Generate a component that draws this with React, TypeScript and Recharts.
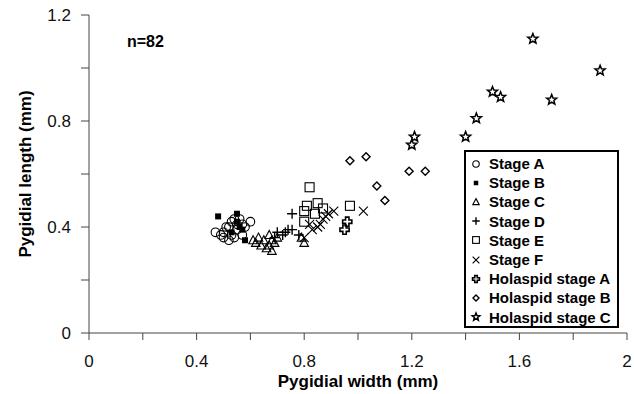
import React from "react";
import {
  ScatterChart,
  Scatter,
  XAxis,
  YAxis,
  Legend,
} from "recharts";

const FONT = '"Liberation Sans", Arial, sans-serif';

// [width, length] in mm
const stageA = [
  [0.47, 0.38], [0.49, 0.37], [0.5, 0.38], [0.51, 0.4], [0.52, 0.4],
  [0.53, 0.37], [0.53, 0.42], [0.54, 0.36], [0.55, 0.41], [0.55, 0.39],
  [0.56, 0.43], [0.57, 0.37], [0.58, 0.4], [0.6, 0.42], [0.52, 0.35],
  [0.54, 0.43], [0.57, 0.41], [0.5, 0.36],
];
const stageB = [
  [0.48, 0.44], [0.55, 0.45], [0.53, 0.38], [0.56, 0.4], [0.57, 0.39],
  [0.58, 0.35], [0.55, 0.42],
];
const stageC = [
  [0.61, 0.35], [0.62, 0.34], [0.63, 0.36], [0.64, 0.33], [0.65, 0.35],
  [0.67, 0.37], [0.67, 0.33], [0.68, 0.31], [0.68, 0.35], [0.69, 0.34],
  [0.66, 0.32], [0.7, 0.36], [0.79, 0.36], [0.8, 0.34],
];
const stageD = [
  [0.755, 0.45], [0.755, 0.39], [0.72, 0.37], [0.7, 0.38], [0.69, 0.36],
  [0.73, 0.38], [0.78, 0.37], [0.74, 0.39],
];
const stageE = [
  [0.82, 0.55], [0.8, 0.46], [0.81, 0.48], [0.85, 0.49], [0.87, 0.47],
  [0.84, 0.45], [0.8, 0.42], [0.97, 0.48],
];
const stageF = [
  [0.91, 0.46], [1.02, 0.46], [0.87, 0.43], [0.88, 0.44], [0.82, 0.41],
  [0.8, 0.36], [0.86, 0.41], [0.89, 0.45], [0.85, 0.4], [0.83, 0.39],
];
const holaspidA = [
  [0.96, 0.42], [0.95, 0.39],
];
const holaspidB = [
  [0.97, 0.65], [1.03, 0.665], [1.07, 0.555], [1.1, 0.5], [1.19, 0.61],
  [1.25, 0.61],
];
const holaspidC = [
  [1.21, 0.74], [1.2, 0.71], [1.4, 0.74], [1.44, 0.81], [1.5, 0.91],
  [1.53, 0.89], [1.72, 0.88], [1.65, 1.11], [1.9, 0.99],
];

const xTicks = [0, 0.2, 0.4, 0.6, 0.8, 1, 1.2, 1.4, 1.6, 1.8, 2];
const xLabelled = [0, 0.4, 0.8, 1.2, 1.6, 2];
const yTicks = [0, 0.2, 0.4, 0.6, 0.8, 1, 1.2];
const yLabelled = [0, 0.4, 0.8, 1.2];

const series = [
  { name: "Stage A", kind: "circle", points: stageA },
  { name: "Stage B", kind: "filledSquare", points: stageB },
  { name: "Stage C", kind: "triangle", points: stageC },
  { name: "Stage D", kind: "plus", points: stageD },
  { name: "Stage E", kind: "square", points: stageE },
  { name: "Stage F", kind: "cross", points: stageF },
  { name: "Holaspid stage A", kind: "holaA", points: holaspidA },
  { name: "Holaspid stage B", kind: "diamond", points: holaspidB },
  { name: "Holaspid stage C", kind: "star", points: holaspidC },
];

const toRows = (pts: number[][]) => pts.map(([x, y]) => ({ x, y }));

function starPath(cx: number, cy: number, ro: number, ri: number) {
  let d = "";
  for (let i = 0; i < 10; i++) {
    const a = ((-90 + i * 36) * Math.PI) / 180;
    const r = i % 2 === 0 ? ro : ri;
    d += (i === 0 ? "M" : "L") + (cx + r * Math.cos(a)).toFixed(2) + "," + (cy + r * Math.sin(a)).toFixed(2);
  }
  return d + "Z";
}

function Marker({ kind, cx, cy, s = 1 }: { kind: string; cx: number; cy: number; s?: number }) {
  const st = { fill: "none", stroke: "#000", strokeWidth: 1.1 };
  switch (kind) {
    case "circle":
      return <circle cx={cx} cy={cy} r={4.3 * s} {...st} />;
    case "filledSquare":
      return <rect x={cx - 3 * s} y={cy - 3 * s} width={6 * s} height={6 * s} fill="#000" />;
    case "triangle":
      return (
        <path
          d={`M${cx},${cy - 4.5 * s}L${cx + 4.3 * s},${cy + 3.5 * s}L${cx - 4.3 * s},${cy + 3.5 * s}Z`}
          {...st}
        />
      );
    case "plus":
      return (
        <path d={`M${cx - 5 * s},${cy}H${cx + 5 * s}M${cx},${cy - 5 * s}V${cy + 5 * s}`} {...st} strokeWidth={1.4} />
      );
    case "square":
      return <rect x={cx - 4.5 * s} y={cy - 4.5 * s} width={9 * s} height={9 * s} {...st} />;
    case "cross":
      return (
        <path
          d={`M${cx - 4.5 * s},${cy - 4.5 * s}L${cx + 4.5 * s},${cy + 4.5 * s}M${cx - 4.5 * s},${cy + 4.5 * s}L${cx + 4.5 * s},${cy - 4.5 * s}`}
          {...st}
        />
      );
    case "holaA": {
      const a = 1.7 * s;
      const b = 4.6 * s;
      const d = `M${cx - a},${cy - b}H${cx + a}V${cy - a}H${cx + b}V${cy + a}H${cx + a}V${cy + b}H${cx - a}V${cy + a}H${cx - b}V${cy - a}H${cx - a}Z`;
      return <path d={d} {...st} strokeWidth={1.6} />;
    }
    case "diamond":
      return (
        <path
          d={`M${cx},${cy - 4 * s}L${cx + 4 * s},${cy}L${cx},${cy + 4 * s}L${cx - 4 * s},${cy}Z`}
          {...st}
          strokeWidth={1.4}
        />
      );
    case "star":
      return <path d={starPath(cx, cy, 5.3 * s, 2.3 * s)} {...st} strokeWidth={1.5} />;
    default:
      return null;
  }
}

const LegendBox = () => (
  <div
    style={{
      boxSizing: "border-box",
      width: 155,
      height: 178,
      border: "2px solid #000",
      background: "#fff",
      padding: "2px 4px 0 2px",
      fontFamily: FONT,
      fontWeight: "bold",
      fontSize: 15,
      color: "#000",
    }}
  >
    {series.map((s) => (
      <div key={s.name} style={{ display: "flex", alignItems: "center", height: 19.2, whiteSpace: "nowrap" }}>
        <svg width={16} height={14} style={{ flex: "none" }}>
          <Marker kind={s.kind} cx={8} cy={7} s={0.75} />
        </svg>
        <span style={{ marginLeft: 5 }}>{s.name}</span>
      </div>
    ))}
  </div>
);

const tickStyle = { fontFamily: FONT, fontSize: 17, fill: "#111" };
const axisColor = "#444";

export default function App() {
  return (
    <div style={{ position: "absolute", left: 0, top: 0, width: 634, height: 394, background: "#fff" }}>
      <ScatterChart width={634} height={394} margin={{ top: 15, right: 7, bottom: 11, left: 29 }}>
        <XAxis
          type="number"
          dataKey="x"
          domain={[0, 2]}
          ticks={xTicks}
          interval={0}
          tickFormatter={(v: number) => (xLabelled.includes(v) ? String(v) : "")}
          tick={tickStyle}
          tickSize={7}
          tickMargin={15}
          height={50}
          stroke={axisColor}
          label={{
            value: "Pygidial width (mm)",
            position: "center",
            dy: 23,
            style: { fontFamily: FONT, fontSize: 17, fontWeight: "bold", fill: "#000" },
          }}
        />
        <YAxis
          type="number"
          dataKey="y"
          domain={[0, 1.2]}
          ticks={yTicks}
          interval={0}
          tickFormatter={(v: number) => (yLabelled.includes(v) ? String(v) : "")}
          tick={tickStyle}
          tickSize={8}
          tickMargin={10}
          width={60}
          stroke={axisColor}
          label={{
            value: "Pygidial length (mm)",
            angle: -90,
            position: "center",
            dx: -34,
            style: { fontFamily: FONT, fontSize: 17, fontWeight: "bold", fill: "#000", textAnchor: "middle" },
          }}
        />
        <Legend
          layout="vertical"
          align="center"
          verticalAlign="middle"
          content={() => <LegendBox />}
          wrapperStyle={{ left: 464, top: 150, width: 155, height: 178 }}
        />
        {series.map((s) => (
          <Scatter
            key={s.name}
            name={s.name}
            data={toRows(s.points)}
            isAnimationActive={false}
            shape={(p: any) => <Marker kind={s.kind} cx={p.cx} cy={p.cy} />}
          />
        ))}
        <text x={127} y={47} fontFamily={FONT} fontSize={16} fontWeight="bold" fill="#000">
          n=82
        </text>
      </ScatterChart>
    </div>
  );
}
